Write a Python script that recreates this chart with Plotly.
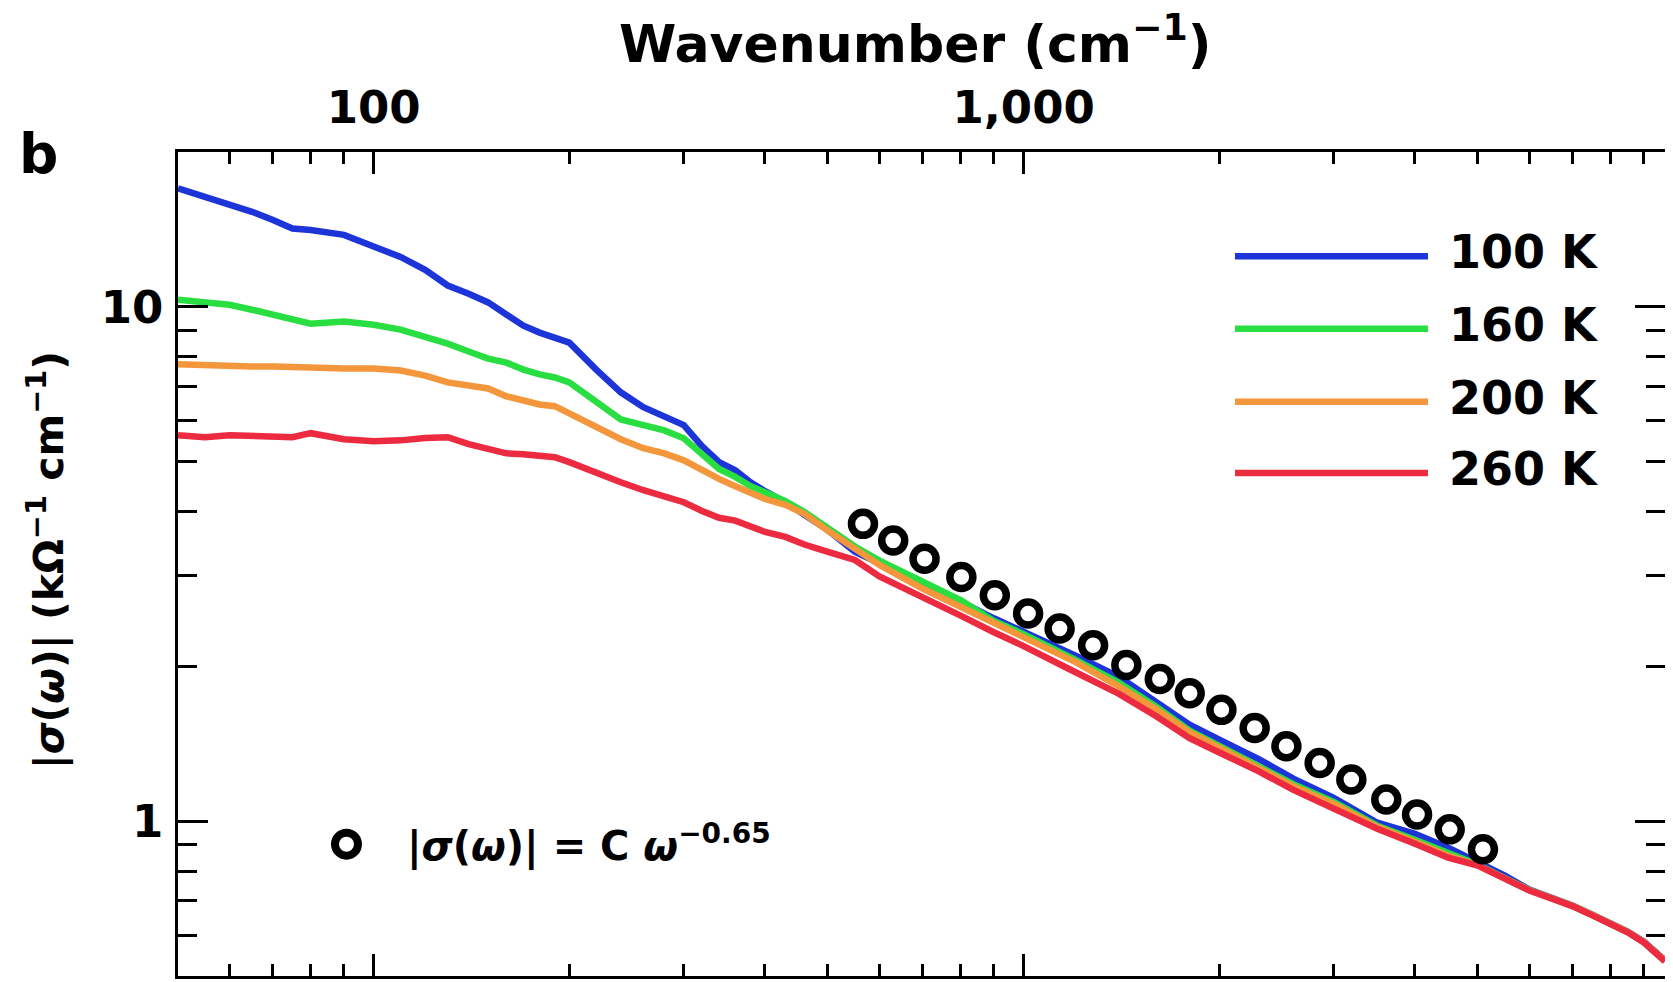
import plotly.graph_objects as go
import math

# ---------------- data ----------------
wavenumber = [50, 55, 60, 65, 70, 75, 80, 90, 100, 110, 120, 130, 140, 150, 160, 170, 180, 190, 200,
              220, 240, 260, 280, 300, 320, 340, 360, 380, 400, 430, 460, 500, 550, 600, 700, 800, 900,
              1000, 1200, 1400, 1600, 1800, 2000, 2300, 2600, 3000, 3500, 4000, 4500, 5000, 5500, 6000,
              6500, 7000, 7500, 8000, 8500, 9000, 9500, 9700]

sigma_100K = [17.0, 16.4, 15.8, 15.3, 14.75, 14.2, 14.1, 13.8, 13.1, 12.5, 11.8, 11.0, 10.6, 10.2, 9.66,
              9.19, 8.91, 8.68, 8.52, 7.55, 6.82, 6.38, 6.13, 5.89, 5.36, 4.99, 4.81, 4.56, 4.38, 4.17,
              3.94, 3.68, 3.34, 3.17, 2.91, 2.67, 2.48, 2.34, 2.10, 1.91, 1.70, 1.54, 1.44, 1.32, 1.21,
              1.11, 0.993, 0.945, 0.888, 0.831, 0.784, 0.736, 0.709, 0.685, 0.658, 0.632, 0.610, 0.583,
              0.550, 0.536]

sigma_160K = [10.32, 10.23, 10.09, 9.87, 9.66, 9.44, 9.27, 9.36, 9.23, 9.03, 8.75, 8.48, 8.19, 7.93, 7.79,
              7.55, 7.39, 7.29, 7.13, 6.52, 6.04, 5.89, 5.75, 5.55, 5.17, 4.84, 4.67, 4.48, 4.36, 4.19,
              3.99, 3.70, 3.42, 3.21, 2.92, 2.69, 2.45, 2.31, 2.06, 1.86, 1.67, 1.50, 1.40, 1.28, 1.18,
              1.09, 0.980, 0.920, 0.865, 0.823, 0.775, 0.735, 0.708, 0.684, 0.657, 0.631, 0.609, 0.582,
              0.549, 0.535]

sigma_200K = [7.73, 7.69, 7.69, 7.66, 7.66, 7.66, 7.62, 7.59, 7.59, 7.52, 7.35, 7.13, 7.03, 6.94, 6.70,
              6.58, 6.46, 6.41, 6.21, 5.86, 5.53, 5.31, 5.19, 5.03, 4.81, 4.63, 4.48, 4.36, 4.23, 4.12,
              3.96, 3.67, 3.38, 3.15, 2.83, 2.61, 2.42, 2.27, 2.04, 1.83, 1.65, 1.49, 1.39, 1.27, 1.17,
              1.08, 0.975, 0.912, 0.857, 0.820, 0.774, 0.734, 0.708, 0.684, 0.657, 0.631, 0.609, 0.582,
              0.549, 0.535]

sigma_260K = [5.63, 5.58, 5.63, 5.60, 5.60, 5.58, 5.68, 5.53, 5.48, 5.50, 5.56, 5.58, 5.41, 5.31, 5.19,
              5.17, 5.15, 5.10, 4.99, 4.75, 4.56, 4.40, 4.29, 4.17, 4.01, 3.89, 3.84, 3.75, 3.65, 3.57,
              3.45, 3.34, 3.22, 2.99, 2.73, 2.51, 2.33, 2.19, 1.95, 1.77, 1.60, 1.45, 1.36, 1.25, 1.15,
              1.06, 0.967, 0.904, 0.849, 0.820, 0.773, 0.733, 0.707, 0.683, 0.656, 0.630, 0.608, 0.581,
              0.548, 0.534]

fit_wavenumber = [566, 630, 704, 802, 903, 1016, 1136, 1279, 1439, 1620, 1801, 2015, 2267, 2537, 2854,
                  3193, 3614, 4030, 4524, 5089]
fit_sigma = [3.785, 3.512, 3.237, 2.984, 2.749, 2.533, 2.369, 2.199, 2.012, 1.889, 1.773, 1.646, 1.517,
             1.398, 1.298, 1.205, 1.102, 1.030, 0.964, 0.882]

series_names = ["100 K", "160 K", "200 K", "260 K"]
series_colors = ["#1d35d8", "#28de40", "#f4963c", "#ec2a40"]

x_tick_vals = [100, 1000]
x_tick_text = ["100", "1,000"]
x_minor_vals = [60, 70, 80, 90, 200, 300, 400, 500, 600, 700, 800, 900,
                2000, 3000, 4000, 5000, 6000, 7000, 8000, 9000]
y_tick_vals = [1, 10]
y_tick_text = ["1", "10"]
y_minor_vals = [0.6, 0.7, 0.8, 0.9, 2, 3, 4, 5, 6, 7, 8, 9]

X_RANGE = [50, 9700]
Y_RANGE = [0.5, 20]

# ---------------- figure ----------------
FONT = "DejaVu Sans"
fig = go.Figure()

all_series = [sigma_100K, sigma_160K, sigma_200K, sigma_260K]
for name, ys, col in zip(series_names, all_series, series_colors):
    fig.add_trace(go.Scatter(x=wavenumber, y=ys, mode="lines", name=name,
                             line=dict(color=col, width=6.5), showlegend=False))

fig.add_trace(go.Scatter(x=fit_wavenumber, y=fit_sigma, mode="markers", name="fit",
                         marker=dict(symbol="circle-open", size=23, color="black",
                                     line=dict(width=7.5, color="black")),
                         showlegend=False))

axis_common = dict(showline=True, linecolor="black", linewidth=2.5, mirror="ticks",
                   ticks="inside", tickcolor="black", tickwidth=2.5,
                   showgrid=False, zeroline=False,
                   tickfont=dict(family=FONT, size=45, color="black", weight="bold"))

fig.update_xaxes(type="log", side="top", range=[math.log10(X_RANGE[0]), math.log10(X_RANGE[1])],
                 tickmode="array", tickvals=x_tick_vals, ticktext=x_tick_text, ticklen=22,
                 ticklabelstandoff=8,
                 minor=dict(tickmode="array", tickvals=x_minor_vals, ticks="inside", ticklen=12,
                            tickwidth=2.5, tickcolor="black", showgrid=False),
                 **axis_common)
fig.update_yaxes(type="log", range=[math.log10(Y_RANGE[0]), math.log10(Y_RANGE[1])],
                 tickmode="array", tickvals=y_tick_vals, ticktext=y_tick_text, ticklen=30,
                 ticklabelstandoff=3,
                 minor=dict(tickmode="array", tickvals=y_minor_vals, ticks="inside", ticklen=19,
                            tickwidth=2.5, tickcolor="black", showgrid=False),
                 **axis_common)

annotations = []
shapes = []

# Top axis title
annotations.append(dict(text="Wavenumber (cm<sup>\u22121</sup>)", xref="paper", yref="paper",
                        x=0.4963, y=1.136, xanchor="center", yanchor="middle", showarrow=False,
                        font=dict(family=FONT, size=52, color="black", weight="bold")))
# Panel letter
annotations.append(dict(text="b", xref="paper", yref="paper", x=-0.0935, y=0.998,
                        xanchor="center", yanchor="middle", showarrow=False,
                        font=dict(family=FONT, size=55, color="black", weight="bold")))
# Y axis title
annotations.append(dict(text="|<i>\u03c3</i>(<i>\u03c9</i>)| (k\u03a9<sup>\u22121</sup> cm<sup>\u22121</sup>)",
                        xref="paper", yref="paper", x=-0.0887, y=0.5046, textangle=-90,
                        xanchor="center", yanchor="middle", showarrow=False,
                        font=dict(family=FONT, size=41, color="black", weight="bold")))
# Power-law key
annotations.append(dict(text="|<i>\u03c3</i>(<i>\u03c9</i>)| = C <i>\u03c9</i><sup>\u22120.65</sup>",
                        xref="paper", yref="paper", x=0.1525, y=0.160, xanchor="left",
                        yanchor="middle", showarrow=False,
                        font=dict(family=FONT, size=40, color="black", weight="bold")))
shapes.append(dict(type="circle", xref="paper", yref="paper", xsizemode="pixel", ysizemode="pixel",
                   xanchor=0.1133, yanchor=0.160, x0=-11.5, x1=11.5, y0=-11.5, y1=11.5,
                   line=dict(color="black", width=8)))

# Legend (drawn manually: long sample lines)
legend_rows = [0.8734, 0.7856, 0.6969, 0.6103]
for name, col, yy in zip(series_names, series_colors, legend_rows):
    shapes.append(dict(type="line", xref="paper", yref="paper", x0=0.7108, x1=0.8406, y0=yy, y1=yy,
                       line=dict(color=col, width=6.5)))
    annotations.append(dict(text=name, xref="paper", yref="paper", x=0.8532, y=yy, yshift=4,
                            xanchor="left", yanchor="middle", showarrow=False,
                            font=dict(family=FONT, size=46, color="black", weight="bold")))

# The page body has an 8 px margin, so the figure is made 8 px smaller and the
# margins are reduced so that the plot area lands where it is in the reference.
fig.update_layout(width=1665, height=974,
                  margin=dict(l=170, r=8, t=144, b=3, pad=0),
                  plot_bgcolor="white", paper_bgcolor="white",
                  showlegend=False, annotations=annotations, shapes=shapes)

fig.write_html("out.html", config={"displayModeBar": False})
